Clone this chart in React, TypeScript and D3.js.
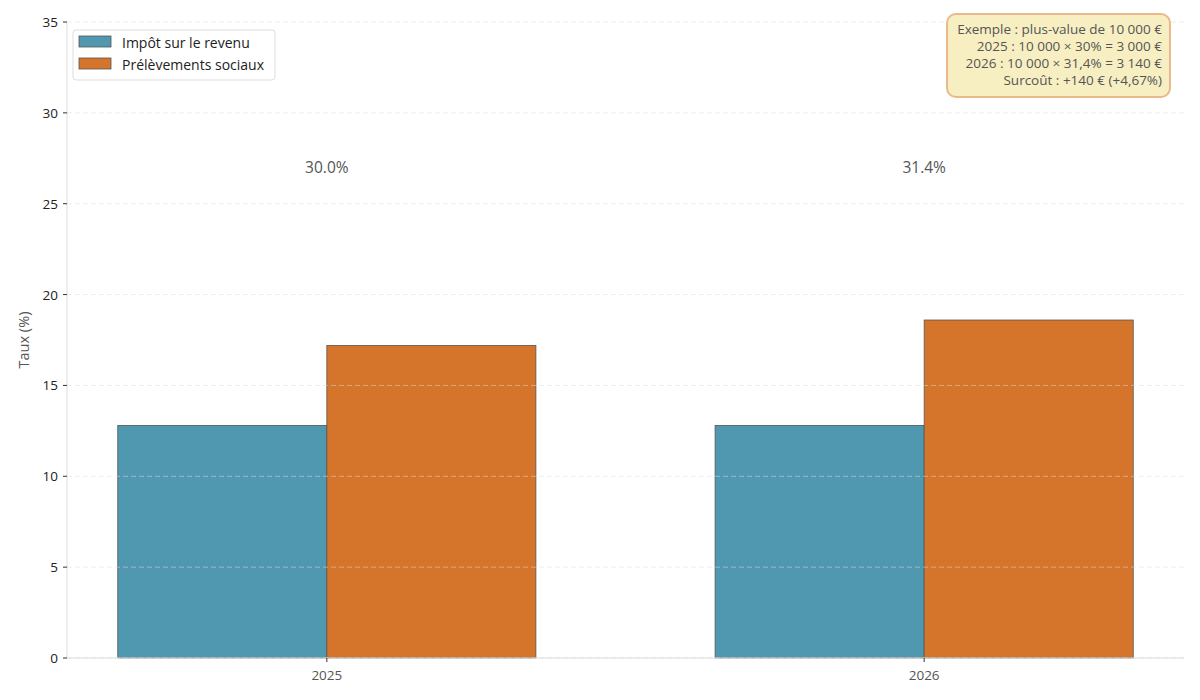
import * as d3 from "d3";

const categories = ["2025", "2026"];
const impotRevenu = [12.8, 12.8];
const prelevementsSociaux = [17.2, 18.6];
const totalLabels = ["30.0%", "31.4%"];
const seriesNames = ["Impôt sur le revenu", "Prélèvements sociaux"];
const seriesColors = ["#5097b0", "#d4752b"];
const yTicks = [0, 5, 10, 15, 20, 25, 30, 35];
const noteLines = [
  "Exemple : plus-value de 10 000 €",
  "2025 : 10 000 × 30% = 3 000 €",
  "2026 : 10 000 × 31,4% = 3 140 €",
  "Surcoût : +140 € (+4,67%)",
];

const W = 1200;
const H = 700;
const FONT = "'Open Sans', Lato, sans-serif";

export default function App() {
  const plot = { left: 67, right: 1184, top: 22, bottom: 658 };
  const barW = 0.35;

  // x en unités de catégorie, comme matplotlib
  const x = d3
    .scaleLinear()
    .domain([-0.435, categories.length - 1 + 0.435])
    .range([plot.left, plot.right]);
  const y = d3.scaleLinear().domain([0, 35]).range([plot.bottom, plot.top]);

  const series = [impotRevenu, prelevementsSociaux];

  return (
    <div style={{ margin: -8 }}>
      <svg width={W} height={H} viewBox={`0 0 ${W} ${H}`} style={{ display: "block", fontFamily: FONT }}>
        <rect width={W} height={H} fill="#fff" />

        {/* Bars */}
        {series.map((vals, si) => (
          <g key={si}>
            {vals.map((v, i) => {
              const x0 = si === 0 ? x(i - barW) : x(i);
              return (
                <rect
                  key={i}
                  x={x0}
                  y={y(v)}
                  width={x(i + barW) - x(i)}
                  height={y(0) - y(v)}
                  fill={seriesColors[si]}
                  stroke="#555"
                  strokeWidth={0.8}
                />
              );
            })}
          </g>
        ))}

        {/* Grid */}
        {yTicks.map((t) => (
          <line
            key={t}
            x1={plot.left}
            x2={plot.right}
            y1={y(t)}
            y2={y(t)}
            stroke="#ddd"
            strokeOpacity={0.5}
            strokeDasharray="5,3"
          />
        ))}

        {/* Axes */}
        <line x1={plot.left} x2={plot.left} y1={plot.top} y2={plot.bottom} stroke="#ddd" />
        <line x1={plot.left} x2={plot.right} y1={plot.bottom} y2={plot.bottom} stroke="#ddd" />
        {yTicks.map((t) => (
          <g key={t}>
            <line x1={plot.left - 4} x2={plot.left} y1={y(t)} y2={y(t)} stroke="#333" />
            <text x={plot.left - 9} y={y(t)} textAnchor="end" dominantBaseline="central" fontSize={13.5} fill="#222">
              {t}
            </text>
          </g>
        ))}
        {categories.map((c, i) => (
          <g key={c}>
            <line x1={x(i)} x2={x(i)} y1={plot.bottom} y2={plot.bottom + 4} stroke="#333" />
            <text x={x(i)} y={plot.bottom + 17} textAnchor="middle" dominantBaseline="central" fontSize={13.5} fill="#555">
              {c}
            </text>
          </g>
        ))}
        <text
          transform={`translate(23, ${(plot.top + plot.bottom) / 2}) rotate(-90)`}
          textAnchor="middle"
          dominantBaseline="central"
          fontSize={14.5}
          fill="#555"
        >
          Taux (%)
        </text>

        {/* Total labels */}
        {totalLabels.map((l, i) => (
          <text key={l} x={x(i)} y={y(27)} textAnchor="middle" dominantBaseline="central" fontSize={15.5} fill="#555">
            {l}
          </text>
        ))}

        {/* Legend */}
        <rect x={73} y={30} width={202} height={50} rx={3} fill="#fff" stroke="#ddd" />
        {seriesNames.map((n, i) => (
          <g key={n} transform={`translate(79, ${36 + i * 22})`}>
            <rect width={32} height={11} fill={seriesColors[i]} stroke="#555" strokeWidth={0.8} />
            <text x={43} y={6} dominantBaseline="central" fontSize={14} fill="#222">
              {n}
            </text>
          </g>
        ))}

        {/* Note */}
        <rect x={947} y={14} width={223} height={83} rx={9} fill="#f7efc2" stroke="#e9b98b" strokeWidth={2} />
        {noteLines.map((l, i) => (
          <text key={i} x={1162} y={29 + i * 17} textAnchor="end" dominantBaseline="central" fontSize={13.5} fill="#555">
            {l}
          </text>
        ))}
      </svg>
    </div>
  );
}
